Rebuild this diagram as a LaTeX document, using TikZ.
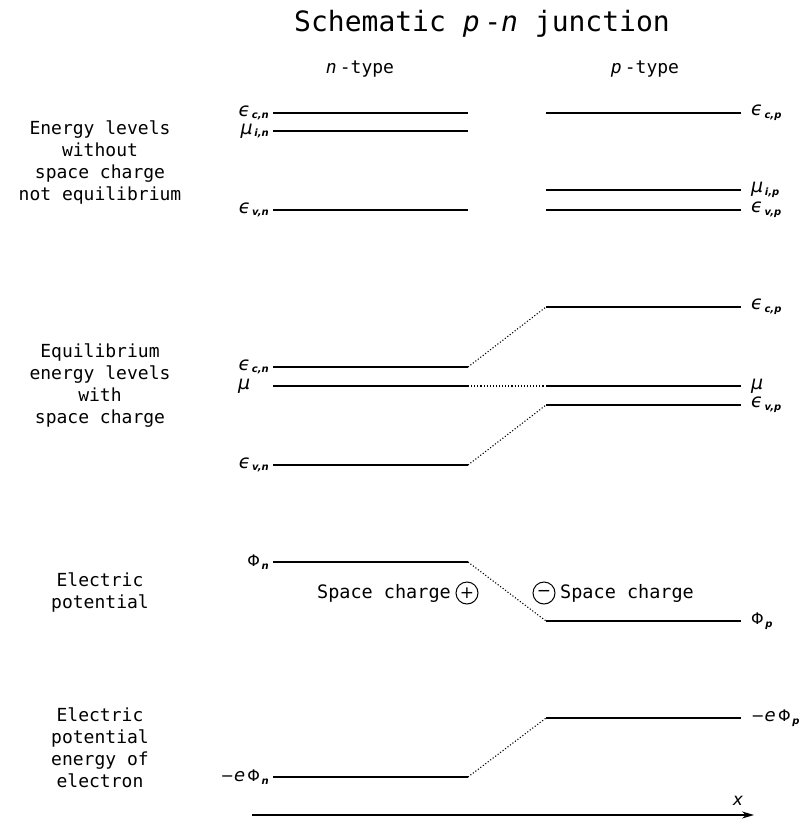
\documentclass[tikz,border=0pt]{standalone}
\usepackage{fontspec}
\usetikzlibrary{arrows.meta}
\setmainfont{DejaVu Sans Mono}
\newfontfamily\sym{DejaVu Sans}
\newcommand\Sb[1]{\raisebox{-0.35ex}{\fontsize{10}{10}\selectfont\sym\bfseries\itshape\,#1}}
\newcommand\Eps{{\sym\itshape\fontsize{19}{20}\selectfont ϵ}}
\newcommand\Mu{{\sym\itshape\fontsize{19}{20}\selectfont μ}}
\newcommand\Ph{{\sym\fontsize{16}{20}\selectfont Φ}}
\begin{document}
\begin{tikzpicture}[x=1pt,y=-1pt,
  lvl/.style={line width=1.3pt},
  conn/.style={line width=1.1pt, dotted},
  side/.style={font=\fontsize{18}{22}\selectfont, align=center},
  sy/.style={font=\fontsize{14}{16}\selectfont, inner sep=4pt},
  sc/.style={font=\fontsize{18.5}{22}\selectfont, inner sep=0pt},
  chg/.style={draw, circle, line width=1pt, inner sep=0pt, minimum size=22pt, font=\sym\fontsize{17}{17}\selectfont}]
\useasboundingbox (0,0) rectangle (802,819);

% title and headers
\node[font=\fontsize{28}{32}\selectfont] (title) at (482,24) {Schematic \textit{p}\,-\textit{n} junction};
\node[font=\fontsize{18}{22}\selectfont] (nt) at (360,69) {\textit{n}\,-type};
\node[font=\fontsize{18}{22}\selectfont] (pt) at (645,69) {\textit{p}\,-type};

% side labels
\node[side] (r1) at (100,163) {Energy levels\\without\\space charge\\not equilibrium};
\node[side] (r2) at (100,386) {Equilibrium\\energy levels\\with\\space charge};
\node[side] (r3) at (100,592) {Electric\\potential};
\node[side] (r4) at (100,748) {Electric\\potential\\energy of\\electron};

% ---- row 1
\coordinate (a1) at (273,113); \coordinate (a2) at (468,113);
\coordinate (b1) at (273,131); \coordinate (b2) at (468,131);
\coordinate (c1) at (273,210); \coordinate (c2) at (468,210);
\coordinate (d1) at (546,113); \coordinate (d2) at (741,113);
\coordinate (e1) at (546,190); \coordinate (e2) at (741,190);
\coordinate (f1) at (546,210); \coordinate (f2) at (741,210);
\draw[lvl] (a1) -- (a2); \draw[lvl] (b1) -- (b2); \draw[lvl] (c1) -- (c2);
\draw[lvl] (d1) -- (d2); \draw[lvl] (e1) -- (e2); \draw[lvl] (f1) -- (f2);
\node[sy, anchor=east] (la) at (a1) {\Eps\Sb{c,n}};
\node[sy, anchor=east] (lb) at (b1) {\Mu\Sb{i,n}};
\node[sy, anchor=east] (lc) at (c1) {\Eps\Sb{v,n}};
\node[sy, anchor=west, xshift=6pt] (ld) at (d2) {\Eps\Sb{c,p}};
\node[sy, anchor=west, xshift=6pt] (le) at (e2) {\Mu\Sb{i,p}};
\node[sy, anchor=west, xshift=6pt] (lf) at (f2) {\Eps\Sb{v,p}};

% ---- row 2
\coordinate (g1) at (273,367); \coordinate (g2) at (468,367);
\coordinate (h1) at (273,386); \coordinate (h2) at (468,386);
\coordinate (i1) at (273,465); \coordinate (i2) at (468,465);
\coordinate (j1) at (546,307); \coordinate (j2) at (741,307);
\coordinate (k1) at (546,386); \coordinate (k2) at (741,386);
\coordinate (l1) at (546,405); \coordinate (l2) at (741,405);
\draw[lvl] (g1) -- (g2); \draw[lvl] (h1) -- (h2); \draw[lvl] (i1) -- (i2);
\draw[lvl] (j1) -- (j2); \draw[lvl] (k1) -- (k2); \draw[lvl] (l1) -- (l2);
\draw[conn] (g2) -- (j1); \draw[conn] (h2) -- (k1); \draw[conn] (i2) -- (l1);
\node[sy, anchor=east] (lg) at (g1) {\Eps\Sb{c,n}};
\node[sy, anchor=east] (lh) at (h1) {\Mu\phantom{\Sb{c,n}}};
\node[sy, anchor=east] (li) at (i1) {\Eps\Sb{v,n}};
\node[sy, anchor=west, xshift=6pt] (lj) at (j2) {\Eps\Sb{c,p}};
\node[sy, anchor=west, xshift=6pt] (lk) at (k2) {\Mu};
\node[sy, anchor=west, xshift=6pt] (ll) at (l2) {\Eps\Sb{v,p}};

% ---- row 3
\coordinate (m1) at (273,562); \coordinate (m2) at (468,562);
\coordinate (n1) at (546,621); \coordinate (n2) at (741,621);
\draw[lvl] (m1) -- (m2); \draw[lvl] (n1) -- (n2);
\draw[conn] (m2) -- (n1);
\node[sy, anchor=east] (lm) at (m1) {\Ph\Sb{n}};
\node[sy, anchor=west, xshift=6pt] (ln) at (n2) {\Ph\Sb{p}};
\node[sc, anchor=east] (sc1) at (451,593) {Space charge};
\node[chg] (plus) at (467,593) {+};
\node[chg] (minus) at (544,593) {−};
\node[sc, anchor=west] (sc2) at (560,593) {Space charge};

% ---- row 4
\coordinate (o1) at (273,777); \coordinate (o2) at (468,777);
\coordinate (p1) at (546,718); \coordinate (p2) at (741,718);
\draw[lvl] (o1) -- (o2); \draw[lvl] (p1) -- (p2);
\draw[conn] (o2) -- (p1);
\node[sy, anchor=east] (lo) at (o1) {{\sym\fontsize{16}{20}\selectfont −}{\sym\itshape\fontsize{18}{20}\selectfont e}\,\Ph\Sb{n}};
\node[sy, anchor=west, xshift=6pt] (lp) at (p2) {{\sym\fontsize{16}{20}\selectfont −}{\sym\itshape\fontsize{18}{20}\selectfont e}\,\Ph\Sb{p}};

% axis
\coordinate (ax1) at (252,815);
\coordinate (ax2) at (754,815);
\draw[line width=1.3pt, -{Stealth[length=12pt,width=7pt]}] (ax1) -- (ax2);
\node[font=\fontsize{17}{17}\selectfont\sym\itshape] (xl) at (738,801) {x};
\end{tikzpicture}
\end{document}
